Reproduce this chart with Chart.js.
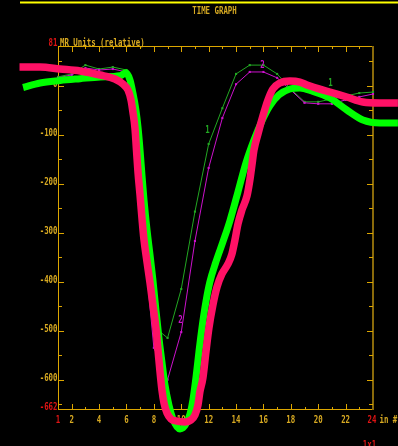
<!DOCTYPE html>
<html><head><meta charset="utf-8">
<script src="https://cdn.jsdelivr.net/npm/chart.js@4"></script>
<style>html,body{margin:0;padding:0;background:#000;overflow:hidden}#wrap{width:398px;height:446px;position:relative}</style>
</head><body><div id="wrap"><canvas id="c" width="398" height="446"></canvas></div>
<script>
// ---- data ----
const xTicks = [1,2,3,4,5,6,7,8,9,10,11,12,13,14,15,16,17,18,19,20,21,22,23,24];
const xLabelTicks = [2,4,6,8,10,12,14,16,18,20,22];
const yLabelTicks = [0,-100,-200,-300,-400,-500,-600];
const yMin = -662, yMax = 81;
const seriesOne = [18,24,42,34,38,32,-230,-492,-515,-415,-257,-119,-46,24,42,42,24,-7,-33,-33,-27,-21,-15,-13];
const seriesTwo = [16,22,36,32,34,28,-240,-535,-600,-503,-317,-168,-66,3,28,28,16,-9,-35,-37,-37,-29,-23,-17];
const curveAX = [-1.55,-0.31,1.15,2.61,4.07,5.53,5.96,6.26,6.47,6.69,6.84,6.99,7.13,7.28,7.50,7.72,7.93,8.15,8.37,8.59,8.81,9.10,9.39,9.69,9.91,10.12,10.34,10.64,10.85,11.07,11.29,11.51,11.80,12.09,12.53,13.04,13.55,14.14,14.72,15.31,15.89,16.47,17.13,17.93,18.66,19.54,20.85,22.09,23.26,24.5,25.82];
const curveAY = [-3.7,5.5,10.6,14.3,17.7,20.2,26.3,11.6,-15,-49.6,-84.3,-131.2,-182.3,-233.3,-294.5,-345.5,-396.6,-457.8,-514.9,-563.9,-610.8,-651.7,-680.2,-696.5,-700.6,-698.6,-690.4,-670,-641.5,-596.6,-543.5,-494.5,-441.4,-400.6,-359.8,-319,-276.1,-216.9,-157.8,-110.8,-72.1,-41.4,-19,-6.8,-4.7,-10.8,-25.1,-49.6,-70,-76.1,-76.1];
const curveBX = [-1.81,-0.31,1.15,2.61,4.07,5.16,5.74,6.11,6.33,6.47,6.62,6.73,6.84,6.99,7.13,7.28,7.50,7.72,7.93,8.15,8.30,8.45,8.59,8.74,8.96,9.25,9.61,10.27,10.71,11.0,11.22,11.36,11.58,11.80,12.02,12.31,12.61,12.97,13.41,13.70,13.92,14.14,14.43,14.80,15.01,15.16,15.31,15.60,15.96,16.33,16.69,17.20,17.93,18.66,19.18,20.85,22.09,23.26,24.5,25.82];
const curveBY = [38.1,38.1,34.1,30,21.8,13.7,3.4,-8.8,-29.2,-53.7,-86.3,-131.2,-176.1,-223.1,-270,-314.9,-359.8,-402.7,-447.6,-494.5,-539.4,-584.3,-621,-647.6,-668,-680.2,-684.3,-686.3,-682.3,-672,-651.7,-625.1,-596.6,-543.5,-494.5,-447.6,-410.8,-384.3,-363.9,-343.5,-314.9,-282.3,-253.7,-225.1,-192.5,-161.9,-131.2,-98.6,-61.9,-29.2,-6.8,5.5,9.6,7.5,1.4,-12.9,-23.1,-33.3,-35.3,-35.3];

const AX = '#dca600', AXR = '#8a6a0a', TXT = '#d8aa22', RED = '#e01414';
const C1 = '#22a822', C2 = '#cc11cc', CA = '#00ff00', CB = '#ff1166';

function txt(ctx, s, x, y, align, color) {
  ctx.save(); ctx.translate(x, y); ctx.scale(0.74, 1);
  ctx.font = 'bold 10px "DejaVu Sans Mono"'; ctx.textAlign = align; ctx.textBaseline = 'alphabetic';
  ctx.fillStyle = color; ctx.fillText(s, 0, 0); ctx.restore();
}
function seg(ctx, x1, y1, x2, y2) { ctx.beginPath(); ctx.moveTo(x1, y1); ctx.lineTo(x2, y2); ctx.stroke(); }

const framePlugin = {
  id: 'frame',
  beforeDatasetsDraw(chart) {
    const {ctx, scales: {x, y}} = chart;
    const L = x.getPixelForValue(1), R = x.getPixelForValue(24);
    const T = y.getPixelForValue(yMax), B = y.getPixelForValue(yMin);
    ctx.save();
    ctx.fillStyle = '#ffff00'; ctx.fillRect(20, 1.5, 378, 2);
    ctx.lineWidth = 1; ctx.strokeStyle = AX;
    seg(ctx, L + 0.5, T, L + 0.5, B);
    seg(ctx, L, B - 0.5, R, B - 0.5);
    seg(ctx, L, T + 0.5, R, T + 0.5);
    ctx.strokeStyle = AXR; ctx.lineWidth = 2;
    seg(ctx, R, T, R, B);
    ctx.lineWidth = 1; ctx.strokeStyle = AX;
    for (let v = 50; v >= -650; v -= 50) {
      const py = Math.round(y.getPixelForValue(v)) + 0.5;
      const len = (v % 100 === 0) ? 5 : 3;
      seg(ctx, L, py, L + 1 + len, py);
      seg(ctx, R - 1 - len, py, R, py);
    }
    xTicks.forEach(i => {
      if (i === 1 || i === 24) return;
      const px = Math.round(x.getPixelForValue(i)) + 0.5;
      const len = (i % 2 === 0) ? 6 : 3;
      seg(ctx, px, B, px, B - len);
      seg(ctx, px, T, px, T + len);
    });
    txt(ctx, 'TIME GRAPH', 214.5, 14, 'center', TXT);
    txt(ctx, String(yMax), L - 0.5, T, 'right', RED);
    txt(ctx, 'MR Units (relative)', L + 2, T - 0.5, 'left', TXT);
    yLabelTicks.forEach(v => txt(ctx, String(v), L - 0.5, Math.round(y.getPixelForValue(v)) + 0.5, 'right', TXT));
    txt(ctx, String(yMin), L - 0.5, B, 'right', RED);
    xLabelTicks.forEach(i => txt(ctx, String(i), x.getPixelForValue(i), B + 13, 'center', TXT));
    txt(ctx, '1', L, B + 13, 'center', RED);
    txt(ctx, '24', R - 1, B + 13, 'center', RED);
    txt(ctx, 'in #', R + 6.5, B + 13, 'left', TXT);
    txt(ctx, '1x1', R - 3.5, B + 38, 'center', RED);
    ctx.restore();
  },
  afterDatasetsDraw(chart) {
    const {ctx} = chart;
    txt(ctx, '1', 207.5, 133, 'center', C1);
    txt(ctx, '1', 330.5, 86, 'center', C1);
    txt(ctx, '2', 180.5, 323, 'center', C2);
    txt(ctx, '2', 262.5, 68, 'center', C2);
  }
};

const thin = (data, color, order) => ({
  data, borderColor: color, backgroundColor: color, borderWidth: 1, tension: 0,
  pointRadius: 1.5, pointStyle: 'rect', pointBackgroundColor: color, pointBorderWidth: 0, order
});
const thick = (data, color, w, order) => ({
  data, borderColor: color, borderWidth: w, pointRadius: 0, cubicInterpolationMode: 'monotone',
  capBezierPoints: false, clip: false, borderCapStyle: 'butt', borderJoinStyle: 'round', order
});

new Chart(document.getElementById('c'), {
  type: 'line',
  data: {
    datasets: [
      thick(curveBX.map((v, i) => ({x: v, y: curveBY[i]})), CB, 7.5, 0),
      thick(curveAX.map((v, i) => ({x: v, y: curveAY[i]})), CA, 7, 1),
      thin(xTicks.map((v, i) => ({x: v, y: seriesTwo[i]})), C2, 2),
      thin(xTicks.map((v, i) => ({x: v, y: seriesOne[i]})), C1, 3)
    ]
  },
  options: {
    responsive: false, animation: false, events: [],
    layout: {padding: {left: 58, right: 25, top: 46, bottom: 36}},
    plugins: {legend: {display: false}, tooltip: {enabled: false}},
    scales: {
      x: {type: 'linear', display: false, bounds: 'data', afterDataLimits(s) { s.min = 1; s.max = 24; }},
      y: {type: 'linear', display: false, bounds: 'data', afterDataLimits(s) { s.min = yMin; s.max = yMax; }}
    }
  },
  plugins: [framePlugin]
});
</script></body></html>
